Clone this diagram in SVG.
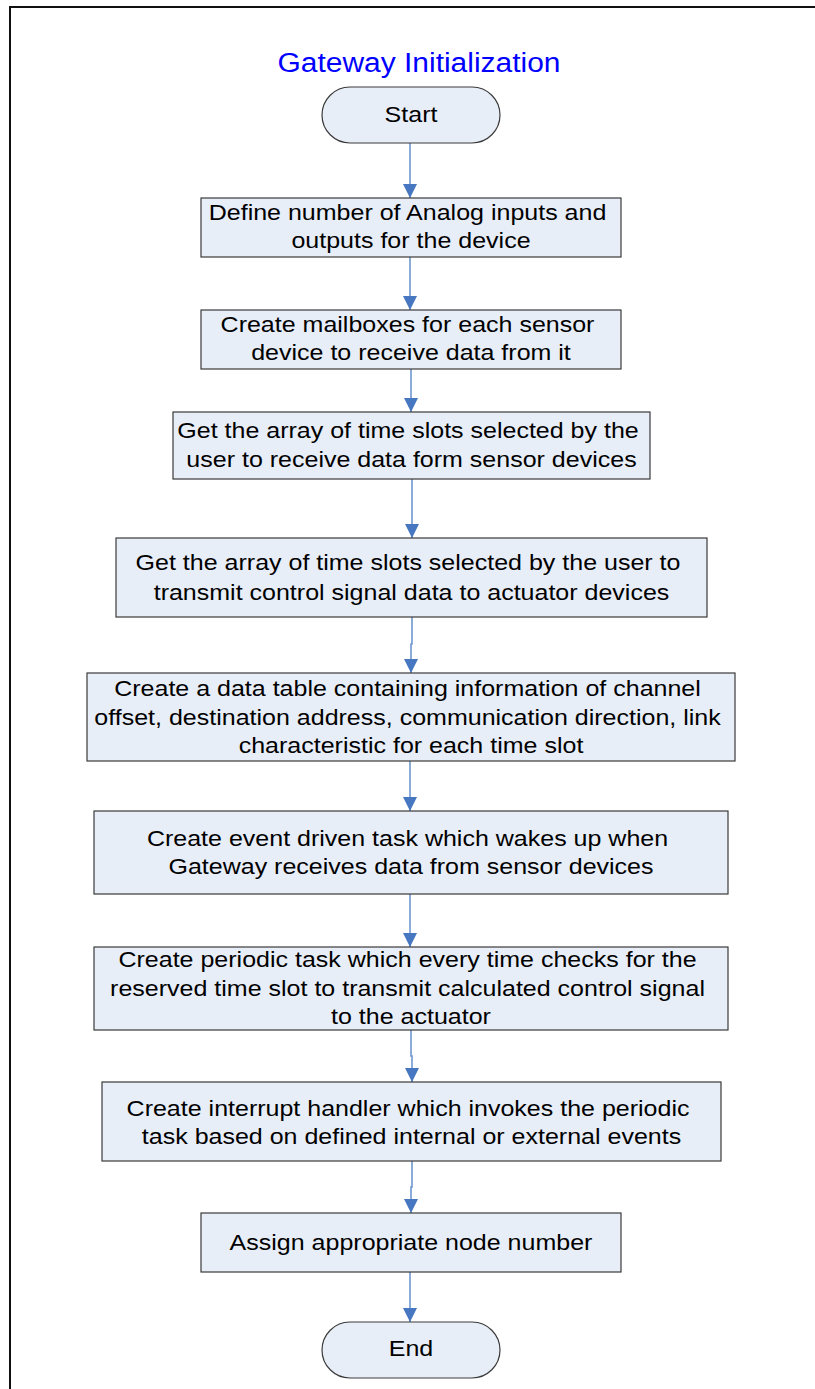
<svg xmlns="http://www.w3.org/2000/svg" width="815" height="1389" viewBox="0 0 815 1389">
  <defs>
    <style>
      .frame { fill: none; stroke: #111; stroke-width: 2; }
      .title { font-family: "Liberation Sans", Arial, sans-serif; font-size: 28px; fill: #0000ff; text-anchor: middle; }
      .box { fill: #e8eef7; stroke: #3a3a3a; stroke-width: 1.2; }
      .lbl { font-family: "Liberation Sans", Arial, sans-serif; font-size: 22px; fill: #000; text-anchor: middle; }
      .conn { fill: none; stroke: #6f97cf; stroke-width: 1.6; }
    </style>
    <marker id="arrow" viewBox="0 0 14 14" refX="14" refY="7" markerWidth="14" markerHeight="14" markerUnits="userSpaceOnUse" orient="auto">
      <path d="M0,0 L14,7 L0,14 Z" fill="#4677c0"/>
    </marker>
  </defs>

  <!-- page frame -->
  <path class="frame" d="M10,1389 V7 H815"/>

  <!-- heading -->
  <text class="title" transform="translate(419,0) scale(1.07,1)" x="0" y="72.5">Gateway Initialization</text>

  <!-- connectors -->
  <g id="connectors">
    <line class="conn" x1="410" y1="143" x2="410" y2="198" marker-end="url(#arrow)"/>
    <line class="conn" x1="410" y1="257" x2="410" y2="310" marker-end="url(#arrow)"/>
    <line class="conn" x1="411" y1="369" x2="411" y2="412" marker-end="url(#arrow)"/>
    <line class="conn" x1="412" y1="479" x2="412" y2="538" marker-end="url(#arrow)"/>
    <path class="conn" d="M412,617 V644 H411 V673" marker-end="url(#arrow)"/>
    <line class="conn" x1="410" y1="761" x2="410" y2="811" marker-end="url(#arrow)"/>
    <line class="conn" x1="410" y1="894" x2="410" y2="947" marker-end="url(#arrow)"/>
    <path class="conn" d="M411,1030 V1056 H412 V1082" marker-end="url(#arrow)"/>
    <path class="conn" d="M412,1161 V1187 H411 V1213" marker-end="url(#arrow)"/>
    <line class="conn" x1="410" y1="1272" x2="410" y2="1322" marker-end="url(#arrow)"/>
  </g>

  <!-- nodes -->
  <g id="start">
    <rect class="box" x="322" y="87" width="178" height="56" rx="28" ry="28"/>
    <text class="lbl" transform="translate(411,0) scale(1.137,1)" x="0" y="122">Start</text>
  </g>

  <g id="define-io">
    <rect class="box" x="201" y="198" width="420" height="59"/>
    <text class="lbl" transform="translate(411,0) scale(1.137,1)" x="0">
      <tspan x="0" y="220">Define number of Analog inputs and</tspan>
      <tspan x="0" y="248">outputs for the device</tspan>
    </text>
  </g>

  <g id="mailboxes">
    <rect class="box" x="201" y="310" width="420" height="59"/>
    <text class="lbl" transform="translate(411,0) scale(1.137,1)" x="0">
      <tspan x="0" y="332">Create mailboxes for each sensor</tspan>
      <tspan x="0" y="360">device to receive data from it</tspan>
    </text>
  </g>

  <g id="rx-slots">
    <rect class="box" x="173" y="412" width="477" height="67"/>
    <text class="lbl" transform="translate(411.5,0) scale(1.137,1)" x="0">
      <tspan x="0" y="438">Get the array of time slots selected by the</tspan>
      <tspan x="0" y="467">user to receive data form sensor devices</tspan>
    </text>
  </g>

  <g id="tx-slots">
    <rect class="box" x="116" y="538" width="591" height="79"/>
    <text class="lbl" transform="translate(411.5,0) scale(1.137,1)" x="0">
      <tspan x="0" y="570">Get the array of time slots selected by the user to</tspan>
      <tspan x="0" y="600">transmit control signal data to actuator devices</tspan>
    </text>
  </g>

  <g id="data-table">
    <rect class="box" x="87" y="673" width="648" height="88"/>
    <text class="lbl" transform="translate(411,0) scale(1.137,1)" x="0">
      <tspan x="0" y="696">Create a data table containing information of channel</tspan>
      <tspan x="0" y="725">offset, destination address, communication direction, link</tspan>
      <tspan x="0" y="753">characteristic for each time slot</tspan>
    </text>
  </g>

  <g id="event-task">
    <rect class="box" x="94" y="811" width="634" height="83"/>
    <text class="lbl" transform="translate(411,0) scale(1.137,1)" x="0">
      <tspan x="0" y="846">Create event driven task which wakes up when</tspan>
      <tspan x="0" y="874">Gateway receives data from sensor devices</tspan>
    </text>
  </g>

  <g id="periodic-task">
    <rect class="box" x="94" y="947" width="634" height="83"/>
    <text class="lbl" transform="translate(411,0) scale(1.137,1)" x="0">
      <tspan x="0" y="967">Create periodic task which every time checks for the</tspan>
      <tspan x="0" y="996">reserved time slot to transmit calculated control signal</tspan>
      <tspan x="0" y="1024">to the actuator</tspan>
    </text>
  </g>

  <g id="interrupt-handler">
    <rect class="box" x="102" y="1082" width="619" height="79"/>
    <text class="lbl" transform="translate(411.5,0) scale(1.137,1)" x="0">
      <tspan x="0" y="1116">Create interrupt handler which invokes the periodic</tspan>
      <tspan x="0" y="1144">task based on defined internal or external events</tspan>
    </text>
  </g>

  <g id="node-number">
    <rect class="box" x="201" y="1213" width="420" height="59"/>
    <text class="lbl" transform="translate(411,0) scale(1.137,1)" x="0" y="1250">Assign appropriate node number</text>
  </g>

  <g id="end">
    <rect class="box" x="322" y="1322" width="178" height="56" rx="28" ry="28"/>
    <text class="lbl" transform="translate(411,0) scale(1.137,1)" x="0" y="1356">End</text>
  </g>
</svg>
